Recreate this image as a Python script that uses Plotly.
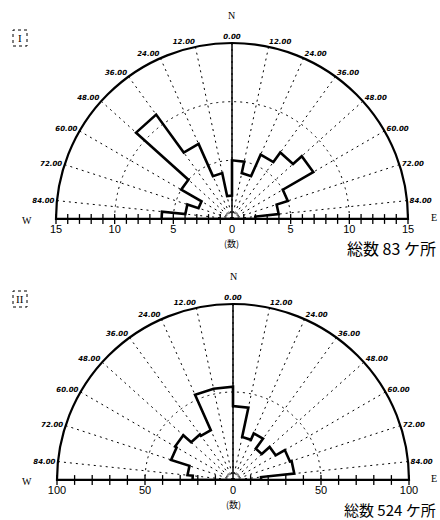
import plotly.graph_objects as go

# 12-degree strike classes, measured from N toward W (left half) and toward E (right half)
bin_edges = [0, 12, 24, 36, 48, 60, 72, 84, 90]
grid_angles = [12, 24, 36, 48, 60, 72, 84]
angle_labels = ["12.00", "24.00", "36.00", "48.00", "60.00", "72.00", "84.00"]

# Panel I: counts per class
counts_I_west = [2, 4, 7, 11, 5, 3, 4, 6]
counts_I_east = [5, 4, 6, 7, 8, 5, 4, 2]

# Panel II: counts per class
counts_II_west = [53, 53, 31, 32, 38, 37, 26, 23]
counts_II_east = [42, 25, 29, 22, 28, 34, 35, 16]

W, H = 440, 520


def px(x):
    return x / W


def py(y):
    return 1 - y / H


def rose_outline(west, east):
    """Envelope of the rose: west classes from W to N, then east classes from N to E."""
    r, th = [0.0], [-90.0]
    for i in reversed(range(len(west))):
        r += [west[i], west[i]]
        th += [-bin_edges[i + 1], -bin_edges[i]]
    for i in range(len(east)):
        r += [east[i], east[i]]
        th += [bin_edges[i], bin_edges[i + 1]]
    r.append(0.0)
    th.append(90.0)
    return r, th


panels = [
    dict(key="polar", sub="polar", west=counts_I_west, east=counts_I_east,
         rmax=15, step=1, major=5, rings=[5, 10], cx=232, cy=219, roman="I",
         total_y=248, total_size=16),
    dict(key="polar2", sub="polar2", west=counts_II_west, east=counts_II_east,
         rmax=100, step=10, major=50, rings=[50], cx=233, cy=480, roman="II",
         total_y=509, total_size=15),
]
R = 176

fig = go.Figure()
layout = dict(width=W, height=H, margin=dict(l=0, r=0, t=0, b=0),
              paper_bgcolor="white", plot_bgcolor="white", showlegend=False)
annotations = []
shapes = []

for p in panels:
    sub = p["sub"]
    rmax = p["rmax"]

    # frame: baseline W-E and the solid N axis
    fig.add_trace(go.Scatterpolar(r=[rmax, 0, rmax], theta=[-90, -90, 90], mode="lines",
                                  line=dict(color="black", width=2.5), subplot=sub,
                                  cliponaxis=False, hoverinfo="skip"))
    fig.add_trace(go.Scatterpolar(r=[0, rmax], theta=[0, 0], mode="lines",
                                  line=dict(color="black", width=1.5), subplot=sub,
                                  hoverinfo="skip"))

    # minor ticks along the baseline
    tick_r = list(range(p["step"], rmax + 1, p["step"]))
    fig.add_trace(go.Scatterpolar(r=tick_r + tick_r, theta=[-90] * len(tick_r) + [90] * len(tick_r),
                                  mode="markers", subplot=sub, cliponaxis=False, hoverinfo="skip",
                                  marker=dict(symbol="line-ns", size=7, color="black",
                                              line=dict(color="black", width=1.3))))

    # baseline labels (transparent markers push the text below the line)
    lab_r = list(range(rmax, 0, -p["major"])) + [0] + list(range(p["major"], rmax + 1, p["major"]))
    lab_t = [-90] * (len(lab_r) // 2) + [0] + [90] * (len(lab_r) // 2)
    fig.add_trace(go.Scatterpolar(r=lab_r, theta=lab_t, mode="markers+text",
                                  text=[str(v) for v in lab_r],
                                  marker=dict(size=8, opacity=0),
                                  textposition="bottom center", subplot=sub, cliponaxis=False,
                                  textfont=dict(family="Liberation Sans", size=11, color="black"),
                                  hoverinfo="skip"))

    # rose envelope
    rr, tt = rose_outline(p["west"], p["east"])
    fig.add_trace(go.Scatterpolar(r=rr, theta=tt, mode="lines", subplot=sub,
                                  line=dict(color="black", width=2.6), cliponaxis=False,
                                  hoverinfo="skip"))

    tickvals = [-a for a in reversed(grid_angles)] + [0] + grid_angles
    ticktext = list(reversed(angle_labels)) + ["0.00"] + angle_labels

    x0, x1 = p["cx"] - R, p["cx"] + R
    layout[p["key"]] = dict(
        domain=dict(x=[px(x0), px(x1)], y=[py(p["cy"]), py(p["cy"] - R)]),
        sector=[0, 180],
        bgcolor="white",
        angularaxis=dict(rotation=90, direction="clockwise", tickmode="array",
                         tickvals=tickvals, ticktext=ticktext, showline=True,
                         linecolor="black", linewidth=2.2, ticks="",
                         showgrid=True, gridcolor="black", gridwidth=1, griddash="2px,4px",
                         tickfont=dict(family="DejaVu Sans", size=7, color="black",
                                       style="italic", weight="bold")),
        radialaxis=dict(range=[0, rmax], tickmode="array", tickvals=p["rings"],
                        showticklabels=False, ticks="", showline=False,
                        showgrid=True, gridcolor="black", gridwidth=1, griddash="2px,4px"),
    )

    cx, cy = p["cx"], p["cy"]
    total = sum(p["west"]) + sum(p["east"])
    mid = dict(showarrow=False, xanchor="center", yanchor="middle", xref="paper", yref="paper")
    annotations += [
        dict(text="N", x=px(cx), y=py(cy - R - 28),
             font=dict(family="Liberation Serif", size=10, color="black"), **mid),
        dict(text="W", x=px(27), y=py(cy + 1),
             font=dict(family="Liberation Serif", size=10, color="black"), **mid),
        dict(text="E", x=px(434), y=py(cy - 2),
             font=dict(family="Liberation Serif", size=10, color="black"), **mid),
        dict(text="(数)", x=px(cx), y=py(cy + 24),
             font=dict(family="Noto Sans CJK JP", size=9, color="black"), **mid),
        dict(text=f"総数 {total} ケ所", x=0.995, y=py(p["total_y"]), showarrow=False,
             xanchor="right", yanchor="middle", xref="paper", yref="paper",
             font=dict(family="Noto Sans CJK JP", size=p["total_size"], color="black")),
        dict(text=p["roman"], x=px(20), y=py(cy - 181),
             font=dict(family="Liberation Serif", size=11, color="black"), **mid),
    ]
    shapes.append(dict(type="rect", xref="paper", yref="paper",
                       x0=px(13), x1=px(27), y0=py(cy - 173), y1=py(cy - 189),
                       line=dict(color="black", width=1, dash="dot")))

layout["annotations"] = annotations
layout["shapes"] = shapes
fig.update_layout(**layout)
fig.write_html("out.html")
